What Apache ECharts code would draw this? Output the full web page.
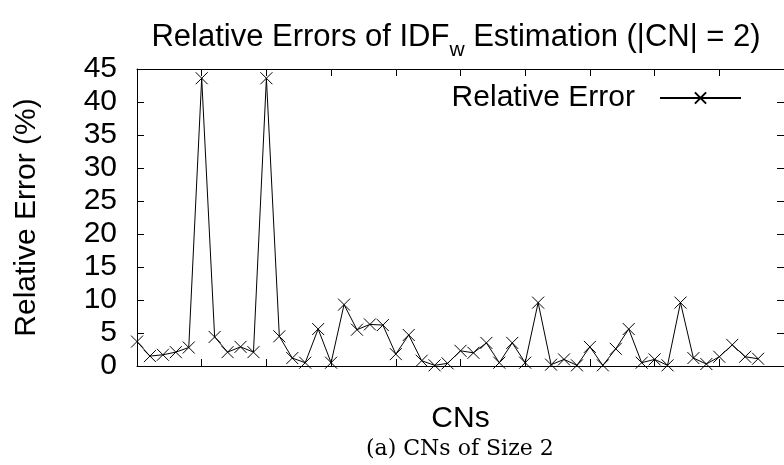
<!DOCTYPE html>
<html>
<head>
<meta charset="utf-8">
<script src="https://cdn.jsdelivr.net/npm/echarts@6/dist/echarts.min.js"></script>
<style>
html,body{margin:0;padding:0;background:#fff;}
#chart{width:784px;height:465px;}
</style>
</head>
<body>
<div id="chart"></div>
<script>
const titleMain = 'Relative Errors of IDF';
const titleSub = 'w';
const titleTail = ' Estimation (|CN| = 2)';
const seriesName = 'Relative Error';
const xAxisName = 'CNs';
const yAxisName = 'Relative Error (%)';
const caption = '(a) CNs of Size 2';
const yTicks = [0, 5, 10, 15, 20, 25, 30, 35, 40, 45];
const errors = [3.7, 1.5, 1.7, 2.1, 2.8, 43.6, 4.4, 2.1, 2.9, 2.1,
  43.6, 4.5, 1.2, 0.5, 5.6, 0.5, 9.3, 5.5, 6.3, 6.2,
  1.8, 4.7, 0.8, 0.1, 0.4, 2.3, 2.0, 3.5, 0.5, 3.5,
  0.5, 9.6, 0.2, 1.0, 0.1, 2.9, 0.1, 2.6, 5.6, 0.5,
  1.0, 0.1, 9.6, 1.2, 0.3, 1.4, 3.2, 1.4, 1.1];

const chart = echarts.init(document.getElementById('chart'), null, {renderer: 'canvas'});
const font = 'Liberation Sans, Arial, sans-serif';
const cross = 'path://M0,0L10,10M10,0L0,10';
const axisCommon = {
  type: 'value', min: 0, max: 50, interval: 5,
  axisLine: {show: true, onZero: false, lineStyle: {color: '#000', width: 1}},
  axisTick: {show: true, inside: true, length: 7, lineStyle: {color: '#000'}},
  axisLabel: {show: false}, splitLine: {show: false}
};
const yCommon = {
  type: 'value', min: 0, max: 45, interval: 5,
  axisLine: {show: true, onZero: false, lineStyle: {color: '#000', width: 1}},
  axisTick: {show: true, inside: true, length: 7, lineStyle: {color: '#000'}},
  splitLine: {show: false}
};
chart.setOption({
  animation: false,
  backgroundColor: '#fff',
  title: {
    text: '{a|' + titleMain + '}{s|' + titleSub + '}{a|' + titleTail + '}',
    left: 451, top: 12, textAlign: 'center',
    textStyle: {
      rich: {
        a: {fontFamily: font, fontSize: 31, color: '#000', fontWeight: 'normal', lineHeight: 36, verticalAlign: 'bottom'},
        s: {fontFamily: font, fontSize: 21, color: '#000', fontWeight: 'normal', lineHeight: 36, verticalAlign: 'bottom', padding: [0, 0, -8, 0]}
      }
    }
  },
  legend: {
    right: 37, top: 76, align: 'right',
    itemWidth: 81, itemHeight: 14, itemGap: 0,
    textStyle: {fontFamily: font, fontSize: 30, lineHeight: 34, color: '#000', padding: [0, 20, 0, 0]},
    data: [{name: seriesName}]
  },
  grid: {left: 137, right: 0, top: 69, bottom: 99},
  xAxis: [
    Object.assign({}, axisCommon, {position: 'bottom', name: xAxisName, nameLocation: 'middle', nameGap: 38,
      nameTextStyle: {fontFamily: font, fontSize: 30, color: '#000'}}),
    Object.assign({}, axisCommon, {position: 'top'})
  ],
  yAxis: [
    Object.assign({}, yCommon, {position: 'left', name: yAxisName, nameLocation: 'middle', nameGap: 95,
      nameTextStyle: {fontFamily: font, fontSize: 30, color: '#000'},
      axisLabel: {show: true, fontFamily: font, fontSize: 30, color: '#000', margin: 20,
        formatter: v => yTicks.indexOf(v) >= 0 ? String(v) : ''}}),
    Object.assign({}, yCommon, {position: 'right', axisLabel: {show: false}})
  ],
  series: [{
    name: seriesName, type: 'line',
    data: errors.map((v, i) => [i, v]),
    symbol: cross, symbolSize: 12,
    showAllSymbol: true,
    lineStyle: {color: '#000', width: 1},
    itemStyle: {color: 'transparent', borderColor: '#000', borderWidth: 1}
  }],
  graphic: [{
    type: 'text', left: 366, top: 438,
    style: {text: caption, font: '22px "DejaVu Serif", "Liberation Serif", serif', fill: '#000'}
  }]
});
</script>
</body>
</html>
